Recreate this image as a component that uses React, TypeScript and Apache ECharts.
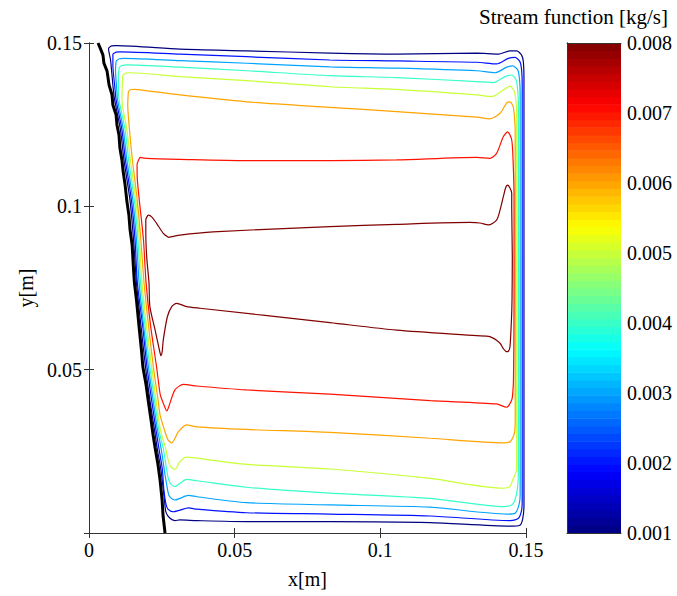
import React, { useEffect, useRef } from "react";
import * as echarts from "echarts";

// Contour levels of the stream function [kg/s]
const LEVELS = [0.001, 0.002, 0.003, 0.004, 0.005, 0.006, 0.007, 0.008];
const X_TICKS = [0, 0.05, 0.1, 0.15];
const Y_TICKS = [0.05, 0.1, 0.15];
const CBAR_TICKS = [0.001, 0.002, 0.003, 0.004, 0.005, 0.006, 0.007, 0.008];

// Inclined wall (thick black line), [x m, y m]
const WALL = [
  [0.0031, 0.15], [0.0041, 0.1479], [0.0048, 0.1463], [0.0051, 0.1439], [0.0062, 0.1414], [0.0069, 0.1371],
  [0.0079, 0.1341], [0.0082, 0.131], [0.0093, 0.128], [0.0096, 0.1249], [0.0103, 0.1218], [0.0106, 0.1179],
  [0.0113, 0.1142], [0.0117, 0.1108], [0.0124, 0.1065], [0.013, 0.1016], [0.0137, 0.0973], [0.0141, 0.0928],
  [0.0148, 0.0882], [0.0151, 0.0836], [0.0153, 0.0805], [0.0156, 0.0765], [0.0163, 0.0713], [0.0168, 0.0667],
  [0.0173, 0.0621], [0.018, 0.056], [0.0185, 0.0508], [0.0196, 0.0453], [0.0203, 0.0407], [0.0213, 0.0346],
  [0.022, 0.03], [0.0227, 0.026], [0.0237, 0.0208], [0.0244, 0.0162], [0.0251, 0.0101], [0.0254, 0.0055],
  [0.0261, 0.0],
];

// Closed contour lines, [x m, y m]
const PSI_001 = [
  [0.0076, 0.1491], [0.0095, 0.1492], [0.0312, 0.1481], [0.0541, 0.1476], [0.0827, 0.1469], [0.1056, 0.1466],
  [0.1331, 0.1469], [0.1405, 0.1466], [0.1445, 0.1476], [0.1468, 0.1476], [0.1485, 0.1463], [0.1491, 0.1442],
  [0.1493, 0.1387], [0.1493, 0.0713], [0.1493, 0.0086], [0.1489, 0.0045], [0.1479, 0.0024], [0.1445, 0.0021],
  [0.1171, 0.0032], [0.0827, 0.0035], [0.0541, 0.0035], [0.037, 0.0038], [0.0312, 0.004], [0.0295, 0.0038],
  [0.0278, 0.0045], [0.0264, 0.0064], [0.0259, 0.0101], [0.0247, 0.0193], [0.0235, 0.0254], [0.0225, 0.0315],
  [0.0209, 0.0407], [0.0194, 0.0508], [0.0178, 0.0637], [0.0163, 0.0765], [0.0153, 0.0897], [0.0141, 0.1016],
  [0.012, 0.1142], [0.0108, 0.1234], [0.0088, 0.1326], [0.0083, 0.1362], [0.0074, 0.1448], [0.0067, 0.1483],
];
const PSI_002 = [
  [0.0082, 0.1466], [0.0093, 0.1472], [0.0106, 0.1473], [0.0312, 0.1466], [0.0541, 0.1458], [0.0827, 0.1448],
  [0.1056, 0.1445], [0.1331, 0.1441], [0.1399, 0.1436], [0.1439, 0.1453], [0.1462, 0.1456], [0.1479, 0.1443],
  [0.1485, 0.1417], [0.1487, 0.1371], [0.1487, 0.0713], [0.1487, 0.0101], [0.1485, 0.007], [0.1474, 0.0045],
  [0.1445, 0.0038], [0.1171, 0.0052], [0.0827, 0.0058], [0.0541, 0.0062], [0.037, 0.0073], [0.0341, 0.0077],
  [0.0312, 0.007], [0.0289, 0.0065], [0.0271, 0.0073], [0.0264, 0.0089], [0.0257, 0.0132], [0.0252, 0.0193],
  [0.0241, 0.0254], [0.023, 0.0315], [0.0215, 0.0407], [0.0199, 0.0508], [0.0184, 0.0637], [0.0166, 0.0765],
  [0.0158, 0.0897], [0.0146, 0.1016], [0.0125, 0.1142], [0.0113, 0.1234], [0.0093, 0.1326], [0.0089, 0.1362],
  [0.0082, 0.1433],
];
const PSI_003 = [
  [0.0093, 0.1445], [0.0103, 0.1451], [0.0118, 0.1453], [0.0312, 0.1446], [0.0541, 0.1438], [0.0827, 0.1427],
  [0.1056, 0.1423], [0.1331, 0.1415], [0.1394, 0.1409], [0.1434, 0.1426], [0.1454, 0.143], [0.1472, 0.1417],
  [0.1478, 0.1387], [0.148, 0.1341], [0.148, 0.0713], [0.148, 0.0116], [0.1476, 0.0086], [0.1462, 0.006],
  [0.1434, 0.0058], [0.1171, 0.0079], [0.0827, 0.0086], [0.0541, 0.0093], [0.037, 0.0111], [0.0341, 0.0115],
  [0.0312, 0.0106], [0.0295, 0.0101], [0.0278, 0.011], [0.0272, 0.0122], [0.0261, 0.0178], [0.0251, 0.0239],
  [0.0242, 0.0285], [0.0235, 0.0315], [0.022, 0.0407], [0.0204, 0.0508], [0.0187, 0.0637], [0.0172, 0.0765],
  [0.0163, 0.0897], [0.0151, 0.1016], [0.013, 0.1142], [0.0118, 0.1234], [0.0098, 0.1326], [0.0095, 0.1362],
  [0.0091, 0.1417],
];
const PSI_004 = [
  [0.0104, 0.1426], [0.0113, 0.1431], [0.0129, 0.1433], [0.0312, 0.1426], [0.0541, 0.1415], [0.0827, 0.14],
  [0.1056, 0.1394], [0.1331, 0.1382], [0.1388, 0.1379], [0.1428, 0.1397], [0.1451, 0.1402], [0.1466, 0.1387],
  [0.1472, 0.135], [0.1474, 0.131], [0.1474, 0.0713], [0.1474, 0.0193], [0.1471, 0.0138], [0.1462, 0.0101],
  [0.1451, 0.0086], [0.1422, 0.0081], [0.1171, 0.0106], [0.0827, 0.0122], [0.0541, 0.014], [0.037, 0.016],
  [0.0335, 0.0164], [0.0312, 0.0152], [0.0295, 0.0142], [0.0281, 0.015], [0.0272, 0.0168], [0.0264, 0.0208],
  [0.0256, 0.0254], [0.024, 0.0315], [0.0225, 0.0407], [0.0209, 0.0508], [0.0192, 0.0637], [0.0177, 0.0765],
  [0.0168, 0.0897], [0.0156, 0.1016], [0.0136, 0.1142], [0.0124, 0.1234], [0.0103, 0.1326], [0.0101, 0.1362],
  [0.0101, 0.1402],
];
const PSI_005 = [
  [0.0116, 0.1402], [0.0127, 0.1408], [0.0141, 0.1409], [0.0312, 0.1397], [0.0541, 0.1385], [0.0827, 0.1366],
  [0.1056, 0.1358], [0.1331, 0.1341], [0.1382, 0.1336], [0.1422, 0.1356], [0.1445, 0.1368], [0.146, 0.1351],
  [0.1467, 0.1305], [0.1468, 0.1249], [0.1468, 0.0713], [0.1468, 0.0223], [0.1466, 0.0187], [0.1454, 0.0162],
  [0.1445, 0.0142], [0.1422, 0.0137], [0.1171, 0.0167], [0.0827, 0.0196], [0.0541, 0.021], [0.037, 0.0229],
  [0.0335, 0.0232], [0.0312, 0.0218], [0.0295, 0.0195], [0.0281, 0.0202], [0.027, 0.023], [0.0263, 0.026],
  [0.0245, 0.0315], [0.023, 0.0407], [0.0215, 0.0508], [0.0197, 0.0637], [0.0182, 0.0765], [0.0173, 0.0897],
  [0.0161, 0.1016], [0.0142, 0.1142], [0.013, 0.1234], [0.0113, 0.1326], [0.0114, 0.1362],
];
const PSI_006 = [
  [0.0135, 0.135], [0.0141, 0.1357], [0.0158, 0.1358], [0.0181, 0.1356], [0.0312, 0.1341], [0.0541, 0.132],
  [0.0827, 0.1303], [0.1056, 0.129], [0.1331, 0.1273], [0.1376, 0.1268], [0.1411, 0.1285], [0.1434, 0.1317],
  [0.1445, 0.132], [0.1456, 0.1305], [0.1462, 0.1254], [0.1463, 0.1203], [0.1463, 0.0713], [0.1463, 0.0346],
  [0.1461, 0.0309], [0.1454, 0.0291], [0.1445, 0.0279], [0.1422, 0.0276], [0.1171, 0.029], [0.0827, 0.0308],
  [0.0541, 0.0317], [0.037, 0.0325], [0.0335, 0.0331], [0.0307, 0.031], [0.0284, 0.0276], [0.0271, 0.0285],
  [0.0257, 0.0321], [0.0244, 0.0361], [0.0237, 0.0407], [0.0221, 0.0508], [0.0204, 0.0637], [0.0189, 0.0765],
  [0.0178, 0.0897], [0.0166, 0.1016], [0.0149, 0.1142], [0.0139, 0.1234], [0.0133, 0.131],
];
const PSI_007 = [
  [0.0175, 0.115], [0.0198, 0.1147], [0.0312, 0.1144], [0.0541, 0.114], [0.0827, 0.114], [0.1056, 0.1142],
  [0.1331, 0.115], [0.1376, 0.1147], [0.1399, 0.1162], [0.1422, 0.1213], [0.1437, 0.1228], [0.1451, 0.1203],
  [0.1456, 0.1132], [0.1459, 0.1019], [0.1459, 0.0713], [0.1457, 0.0468], [0.1454, 0.0422], [0.1451, 0.0407],
  [0.144, 0.0389], [0.1434, 0.0385], [0.1399, 0.0395], [0.1171, 0.0405], [0.0827, 0.0425], [0.0541, 0.0438],
  [0.037, 0.045], [0.0324, 0.0455], [0.0295, 0.0438], [0.0272, 0.0382], [0.0267, 0.0374], [0.0256, 0.0395],
  [0.0245, 0.0422], [0.0239, 0.0459], [0.0232, 0.0508], [0.0211, 0.0637], [0.0196, 0.0765], [0.0187, 0.0897],
  [0.0173, 0.1016], [0.0166, 0.1081], [0.0165, 0.1127],
];
const PSI_008 = [
  [0.0272, 0.0905], [0.0312, 0.0912], [0.0426, 0.0922], [0.0827, 0.0938], [0.1056, 0.0945], [0.1308, 0.0951],
  [0.1342, 0.0949], [0.1371, 0.0943], [0.1399, 0.0958], [0.1411, 0.0989], [0.1422, 0.1029], [0.1431, 0.1059],
  [0.1437, 0.1065], [0.1445, 0.1056], [0.1451, 0.104], [0.1451, 0.0999], [0.1453, 0.0846], [0.1452, 0.0713],
  [0.145, 0.0652], [0.1445, 0.057], [0.144, 0.0557], [0.1434, 0.0555], [0.1421, 0.0566], [0.1411, 0.0581],
  [0.1376, 0.0601], [0.1331, 0.0604], [0.1056, 0.0621], [0.0827, 0.0644], [0.0381, 0.0688], [0.0335, 0.0693],
  [0.0301, 0.0703], [0.0284, 0.0693], [0.0269, 0.0662], [0.0255, 0.0591], [0.0251, 0.0554], [0.0247, 0.0543],
  [0.0244, 0.0551], [0.0227, 0.0621], [0.0209, 0.0693], [0.0206, 0.0765], [0.0198, 0.0846], [0.0195, 0.0918],
  [0.0195, 0.0958], [0.0204, 0.0973], [0.0216, 0.0967], [0.0232, 0.0948], [0.0255, 0.0917],
];

const CONTOURS = [PSI_001, PSI_002, PSI_003, PSI_004, PSI_005, PSI_006, PSI_007, PSI_008];

const FONT = "Liberation Serif";

function jet(t: number): string {
  const c = (v: number) => Math.round(255 * Math.max(0, Math.min(1, v)));
  const r = c(1.5 - Math.abs(4 * t - 3));
  const g = c(1.5 - Math.abs(4 * t - 2));
  const b = c(1.5 - Math.abs(4 * t - 1));
  return `rgb(${r},${g},${b})`;
}

const fmt = (v: number) => String(parseFloat(v.toFixed(4)));

export default function App() {
  const ref = useRef<HTMLDivElement>(null);

  useEffect(() => {
    document.body.style.margin = "0";
    const chart = echarts.init(ref.current!, null, { renderer: "svg" });

    const cmin = CBAR_TICKS[0];
    const cmax = CBAR_TICKS[CBAR_TICKS.length - 1];
    const NB = 64;
    const bands: number[][] = [];
    const bandColors: string[] = [];
    for (let i = 0; i < NB; i++) {
      bands.push([cmin + ((cmax - cmin) * i) / NB, cmin + ((cmax - cmin) * (i + 1)) / NB]);
      bandColors.push(jet((i + 0.5) / NB));
    }

    const contourSeries = CONTOURS.map((pts, i) => ({
      type: "line",
      name: String(LEVELS[i]),
      xAxisIndex: 0,
      yAxisIndex: 0,
      data: [...pts, pts[0]],
      showSymbol: false,
      symbol: "none",
      smooth: 0.25,
      silent: true,
      z: 3,
      lineStyle: { color: jet((LEVELS[i] - cmin) / (cmax - cmin)), width: 1.2 },
    }));

    const axisText = { fontFamily: FONT, fontSize: 20, color: "#000" };
    const frame = { show: true, lineStyle: { color: "#333", width: 1 } };

    chart.setOption({
      animation: false,
      title: {
        text: "Stream function [kg/s]",
        right: 4,
        top: 1,
        textStyle: { fontFamily: FONT, fontSize: 21, color: "#000", fontWeight: "normal" },
      },
      grid: [
        { left: 89, top: 43, width: 437, height: 490 },
        { left: 567, top: 43, width: 54, height: 490 },
      ],
      xAxis: [
        {
          gridIndex: 0, type: "value", position: "bottom", min: 0, max: 0.15, interval: 0.05,
          axisLine: frame, axisTick: { inside: true, length: 5, lineStyle: { color: "#333" } },
          splitLine: { show: false },
          axisLabel: { ...axisText, margin: 7, formatter: (v: number) => (X_TICKS.some((t) => Math.abs(t - v) < 1e-9) ? fmt(v) : "") },
          name: "x[m]", nameLocation: "middle", nameGap: 36, nameTextStyle: axisText,
        },
        {
          gridIndex: 0, type: "value", position: "top", min: 0, max: 0.15, interval: 0.05,
          axisLine: frame, axisTick: { inside: true, length: 5, lineStyle: { color: "#333" } },
          splitLine: { show: false }, axisLabel: { show: false },
        },
        {
          gridIndex: 1, type: "value", position: "bottom", min: 0, max: 1,
          axisLine: frame, axisTick: { show: false }, splitLine: { show: false }, axisLabel: { show: false }, z: 10,
        },
        {
          gridIndex: 1, type: "value", position: "top", min: 0, max: 1,
          axisLine: frame, axisTick: { show: false }, splitLine: { show: false }, axisLabel: { show: false }, z: 10,
        },
      ],
      yAxis: [
        {
          gridIndex: 0, type: "value", position: "left", min: 0, max: 0.15, interval: 0.05,
          axisLine: frame, axisTick: { inside: true, length: 5, lineStyle: { color: "#333" } },
          splitLine: { show: false },
          axisLabel: { ...axisText, margin: 7, formatter: (v: number) => (Y_TICKS.some((t) => Math.abs(t - v) < 1e-9) ? fmt(v) : "") },
          name: "y[m]", nameLocation: "middle", nameGap: 52, nameRotate: 90, nameTextStyle: axisText,
        },
        {
          gridIndex: 0, type: "value", position: "right", min: 0, max: 0.15, interval: 0.05,
          axisLine: frame, axisTick: { inside: true, length: 5, lineStyle: { color: "#333" } },
          splitLine: { show: false }, axisLabel: { show: false },
        },
        {
          gridIndex: 1, type: "value", position: "right", min: cmin, max: cmax, interval: 0.001,
          axisLine: frame, axisTick: { show: false }, splitLine: { show: false }, z: 10,
          axisLabel: { ...axisText, margin: 6, formatter: (v: number) => v.toFixed(3) },
        },
        {
          gridIndex: 1, type: "value", position: "left", min: cmin, max: cmax,
          axisLine: frame, axisTick: { show: false }, splitLine: { show: false }, axisLabel: { show: false }, z: 10,
        },
      ],
      series: [
        ...contourSeries,
        {
          type: "line",
          name: "wall",
          xAxisIndex: 0,
          yAxisIndex: 0,
          data: WALL,
          showSymbol: false,
          symbol: "none",
          silent: true,
          z: 4,
          lineStyle: { color: "#000", width: 3 },
        },
        {
          type: "custom",
          name: "colorbar",
          xAxisIndex: 2,
          yAxisIndex: 2,
          silent: true,
          z: 1,
          data: bands,
          encode: { y: [0, 1] },
          renderItem: (params: any, api: any) => {
            const lo = api.value(0);
            const hi = api.value(1);
            const pTop = api.coord([0, hi]);
            const pBot = api.coord([1, lo]);
            return {
              type: "rect",
              shape: { x: pTop[0], y: pTop[1], width: pBot[0] - pTop[0], height: pBot[1] - pTop[1] + 0.6 },
              style: { fill: bandColors[params.dataIndex] },
            };
          },
        },
      ],
    });

    return () => chart.dispose();
  }, []);

  return <div ref={ref} style={{ width: 677, height: 596 }} />;
}
